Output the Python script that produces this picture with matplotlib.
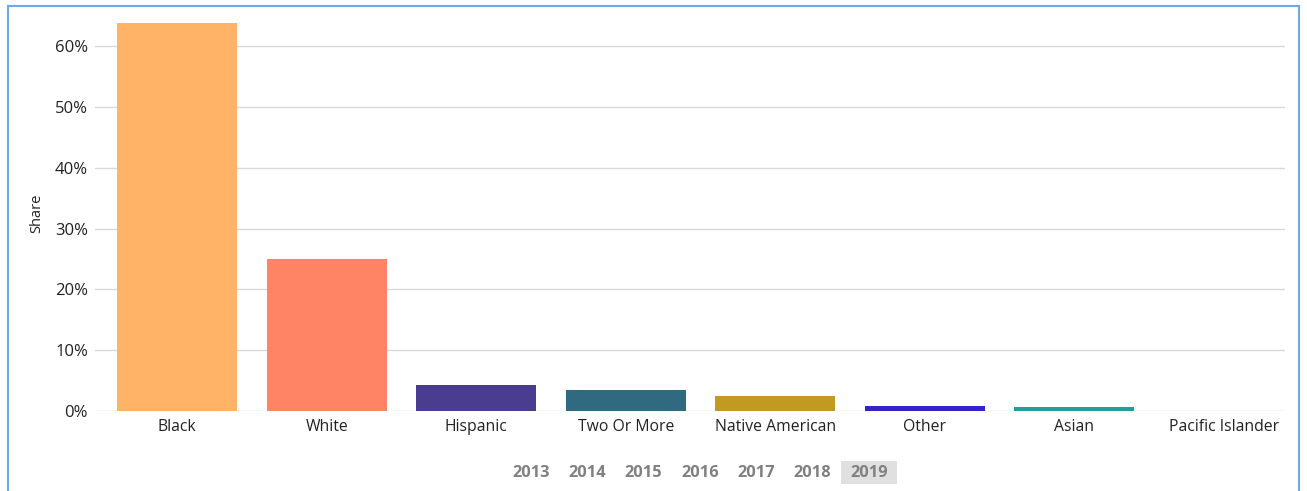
import matplotlib
matplotlib.use("Agg")
from matplotlib import pyplot as plt
from matplotlib.patches import Rectangle
from matplotlib.ticker import FuncFormatter

categories = ["Black", "White", "Hispanic", "Two Or More", "Native American",
              "Other", "Asian", "Pacific Islander"]
shares = [63.9, 25.0, 4.3, 3.5, 2.5, 0.8, 0.6, 0.0]
colors = ["#FFB366", "#FF8466", "#4A3C8E", "#2F6A80", "#C29A22",
          "#3422CC", "#1F9E9C", "#7DB8E0"]
years = ["2013", "2014", "2015", "2016", "2017", "2018", "2019"]
selected_year = "2019"

plt.rcParams["font.family"] = ["Open Sans", "DejaVu Sans"]

fig = plt.figure(figsize=(13.07, 4.91), dpi=100)
fig.patches.append(Rectangle((8 / 1307, -0.1), 1291 / 1307, 1.1 - 6 / 491,
                             transform=fig.transFigure, fill=False,
                             edgecolor="#6FA8E6", linewidth=1.5))

ax = fig.add_axes([95 / 1307, 80 / 491, 1190 / 1307, 395 / 491])
ax.bar(range(len(categories)), shares, width=0.8, color=colors, zorder=3)
ax.set_xlim(-0.55, 7.41)
ax.set_ylim(0, 65)
ax.set_yticks([0, 10, 20, 30, 40, 50, 60])
ax.yaxis.set_major_formatter(FuncFormatter(lambda v, p: f"{v:.0f}%"))
ax.set_xticks(range(len(categories)))
ax.set_xticklabels(categories)
ax.grid(axis="y", color="#D9D9D9", linewidth=1, zorder=0)
for s in ax.spines.values():
    s.set_visible(False)
ax.tick_params(axis="both", length=0, colors="#222222")
ax.tick_params(axis="y", pad=5, labelsize=12)
ax.tick_params(axis="x", pad=5.5, labelsize=11.3)
ax.set_ylabel("Share", fontsize=10.5, color="#222222")
ax.yaxis.set_label_coords(-0.043, 0.5)

# year selector
x0, step, ytxt = 531, 56.3, 473
for i, yr in enumerate(years):
    xc = (x0 + i * step) / 1307
    if yr == selected_year:
        fig.patches.append(Rectangle((xc - 28 / 1307, 1 - 484 / 491), 56 / 1307, 23 / 491,
                                     transform=fig.transFigure, facecolor="#E0E0E0",
                                     edgecolor="none"))
    fig.text(xc, 1 - ytxt / 491, yr, ha="center", va="center", fontsize=11.8,
             fontweight="bold", color="#808080")

fig.savefig("out.png", dpi=100)
